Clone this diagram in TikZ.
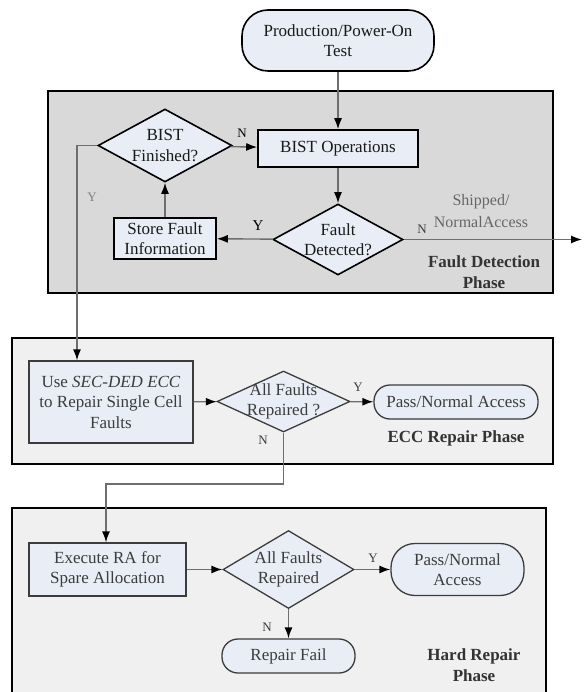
\documentclass[tikz,border=0pt]{standalone}
\usepackage{fontspec}
\setmainfont{Liberation Serif}
\usetikzlibrary{shapes.geometric,arrows.meta}

\definecolor{nodefill}{HTML}{E8EDF6}
\definecolor{darkphase}{HTML}{D9D9D9}
\definecolor{lightphase}{HTML}{F0F0F0}
\definecolor{linegray}{HTML}{6E6E6E}
\definecolor{txtgray}{HTML}{3C3C3C}

\begin{document}
\begin{tikzpicture}[x=1pt, y=-1pt, font=\fontsize{17}{20.5}\selectfont]
    \tikzstyle{phase}=[draw=black, line width=2pt]
    \tikzstyle{procbox}=[draw=black, line width=1.6pt, fill=nodefill, align=center, inner sep=0pt, text=black!90]
    \tikzstyle{lowbox}=[procbox, draw=txtgray, line width=1.3pt, text=txtgray]
    \tikzstyle{decide}=[procbox, diamond, aspect=2, inner xsep=-12pt, inner ysep=-6pt]
    \tikzstyle{lowdecide}=[lowbox, diamond, aspect=2, inner xsep=-12pt, inner ysep=-6pt]
    \tikzstyle{flow}=[draw=linegray, line width=1.4pt, -{Latex[length=11pt, width=8pt, color=black]}]
    \tikzstyle{yn}=[font=\fontsize{13}{15}\selectfont, text=txtgray]
    \tikzstyle{phaselbl}=[font=\fontsize{17}{21}\selectfont\bfseries, align=center, text=black!80]

    \useasboundingbox (0,0) rectangle (583,692);

    % phase frames
    \draw[phase, fill=darkphase] (48,91) rectangle (553,293);
    \draw[phase, fill=lightphase] (12,338) rectangle (553,464);
    \draw[phase, fill=lightphase] (12,508) rectangle (546,700);

    % fault detection phase
    \node[procbox, rounded corners=26pt, minimum width=192pt, minimum height=61pt] (start) at (338,40.5) {Production/Power-On\\Test};
    \node[procbox, minimum width=160pt, minimum height=37pt] (ops) at (338,148.5) {BIST Operations};
    \node[decide, minimum width=134pt, minimum height=73pt] (fin) at (165,145.5) {BIST\\Finished?};
    \node[decide, minimum width=130pt, minimum height=71pt] (fault) at (338,239.5) {Fault\\Detected?};
    \node[procbox, minimum width=102pt, minimum height=41pt] (store) at (165,238.5) {Store Fault\\Information};
    \coordinate (shipped) at (582,239.5);
    \coordinate (yturn) at (77,145.5);

    \draw[flow] (start) -- (ops);
    \draw[flow] (ops) -- (fault);
    \draw[flow] (fault) -- (store);
    \draw[flow] (store) -- (fin);
    \draw[flow] (fin) -- (ops);
    \draw[flow] (fault) -- (shipped);

    \node[yn, text=black] (finN) at (242,133) {N};
    \node[yn, text=black, font=\fontsize{15}{17}\selectfont] (faultY) at (258,226) {Y};
    \node[yn] (faultN) at (422,229) {N};
    \node[yn, text=black!50] (finY) at (92,197) {Y};
    \node[align=center, text=black!60, font=\fontsize{16}{22}\selectfont] (shiptxt) at (481,211) {Shipped/\\NormalAccess};
    \node[phaselbl] (fdlbl) at (484,272.5) {Fault Detection\\Phase};

    % ecc repair phase
    \node[lowbox, minimum width=164pt, minimum height=82pt] (sec) at (111,402) {Use \textit{SEC-DED ECC}\\to Repair Single Cell\\Faults};
    \node[lowdecide, minimum width=133pt, minimum height=61pt] (all1) at (283.5,401.5) {All Faults\\Repaired ?};
    \node[lowbox, rounded corners=16pt, minimum width=164pt, minimum height=34pt] (pass1) at (456,402) {Pass/Normal Access};
    \coordinate (nturn) at (106,484);

    \draw[flow] (fin.west) -- (yturn) -- (yturn |- sec.north);
    \draw[flow] (sec) -- (all1);
    \draw[flow] (all1) -- (pass1);

    \node[yn] (all1Y) at (358,387) {Y};
    \node[yn] (all1N) at (263,440) {N};
    \node[phaselbl] (ecclbl) at (456,438) {ECC Repair Phase};

    % hard repair phase
    \node[lowbox, minimum width=157pt, minimum height=53pt] (ra) at (107.5,569.5) {Execute RA for\\Spare Allocation};
    \node[lowdecide, minimum width=131pt, minimum height=78pt] (all2) at (288.5,569.5) {All Faults\\Repaired};
    \node[lowbox, rounded corners=24pt, minimum width=133pt, minimum height=52pt] (pass2) at (457.5,569.5) {Pass/Normal\\Access};
    \node[lowbox, rounded corners=16pt, minimum width=133pt, minimum height=34pt] (fail) at (288.5,656) {Repair Fail};

    \draw[flow] (all1.south) |- (nturn) -- (nturn |- ra.north);
    \draw[flow] (ra) -- (all2);
    \draw[flow] (all2) -- (pass2);
    \draw[flow] (all2) -- (fail);

    \node[yn] (all2Y) at (373,558) {Y};
    \node[yn] (all2N) at (267,627) {N};
    \node[phaselbl] (hrlbl) at (474,665) {Hard Repair\\Phase};
\end{tikzpicture}
\end{document}
